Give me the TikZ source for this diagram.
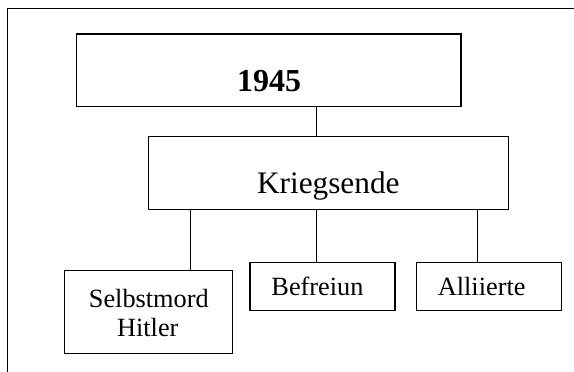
\documentclass[tikz,border=0pt]{standalone}
\usepackage{fontspec}
\setmainfont{Liberation Serif}
\begin{document}
\begin{tikzpicture}[x=1pt,y=-1pt,
  box/.style={draw,line width=1.4pt,minimum width=#1,inner sep=0pt},
  link/.style={line width=1.4pt},
  frame/.style={line width=1.4pt},
  bigtxt/.style={anchor=base,inner sep=0pt,font=\fontsize{31}{36}\selectfont},
  smalltxt/.style={anchor=base,inner sep=0pt,font=\fontsize{26.3}{30}\selectfont}]
\useasboundingbox (0,0) rectangle (574,372);
% open outer frame (top and left edges only)
\draw[frame] (7.5,372) -- (7.5,8.5) -- (574,8.5);

% boxes
\node[box=384.7pt,minimum height=72.7pt] (year) at (268.7,70.3) {};
\node[box=360pt,minimum height=72.7pt] (end) at (328.7,173) {};
\node[box=168.4pt,minimum height=82.6pt] (suicide) at (148.5,312) {};
\node[box=145pt,minimum height=48.4pt] (liberation) at (322.5,286.5) {};
\node[box=145pt,minimum height=48.4pt] (allies) at (489.2,286.5) {};

% texts
\node[bigtxt,font=\fontsize{32}{36}\selectfont\bfseries] (tyear) at (269.2,91) {1945};
\node[bigtxt,font=\fontsize{31.3}{36}\selectfont] (tend) at (328.3,193.3) {Kriegsende};
\node[smalltxt] (tsuicide1) at (148.8,307.3) {Selbstmord};
\node[smalltxt] (tsuicide2) at (147.8,336.7) {Hitler};
\node[smalltxt] (tliberation) at (317.5,295) {Befreiun};
\node[smalltxt] (tallies) at (481.7,295) {Alliierte};

% connector positions
\coordinate (xa) at (316.7,0);
\coordinate (xb) at (190.7,0);
\coordinate (xc) at (477.3,0);

\draw[link] (year.south -| xa) -- (end.north -| xa);
\draw[link] (end.south -| xb) -- (suicide.north -| xb);
\draw[link] (end.south -| xa) -- (liberation.north -| xa);
\draw[link] (end.south -| xc) -- (allies.north -| xc);
\end{tikzpicture}
\end{document}
